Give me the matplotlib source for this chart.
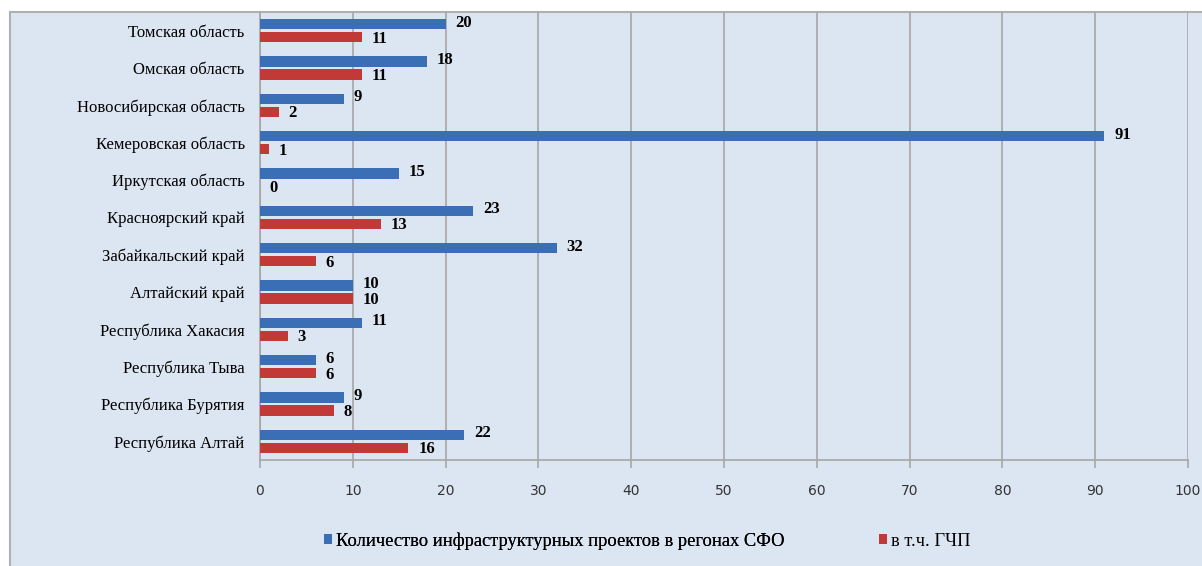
import matplotlib.pyplot as plt
from matplotlib.patches import Rectangle, Patch
import numpy as np

regions = [
    "Томская область",
    "Омская область",
    "Новосибирская область",
    "Кемеровская область",
    "Иркутская область",
    "Красноярский край",
    "Забайкальский край",
    "Алтайский край",
    "Республика Хакасия",
    "Республика Тыва",
    "Республика Бурятия",
    "Республика Алтай",
]
projects_total = [20, 18, 9, 91, 15, 23, 32, 10, 11, 6, 9, 22]
projects_ppp = [11, 11, 2, 1, 0, 13, 6, 10, 3, 6, 8, 16]

label_total = "Количество инфраструктурных проектов в регонах СФО"
label_ppp = "в т.ч. ГЧП"

BLUE = "#3a6fb6"
RED = "#c23a37"
BG = "#dce6f2"
GRID = "#a6a6a6"

W, H = 1202, 566
fig = plt.figure(figsize=(W / 100, H / 100), dpi=100)
fig.patch.set_facecolor("white")

# outer chart frame (extends past right/bottom edge)
frame = Rectangle((10 / W, -0.05), 1.1, 1 - 12 / H + 0.05,
                  transform=fig.transFigure, facecolor=BG,
                  edgecolor="#b0b0b0", linewidth=1.5, zorder=-5)
fig.patches.append(frame)

ax = fig.add_axes([260 / W, 1 - 460 / H, (1188 - 260) / W, (460 - 12) / H])
ax.set_facecolor("none")
ax.set_zorder(2)

n = len(regions)
y = np.arange(n)[::-1].astype(float)
h = 0.27
off = 0.175

ax.barh(y + off, projects_total, height=h, color=BLUE, zorder=3)
ax.barh(y - off, projects_ppp, height=h, color=RED, zorder=3)

for yi, v in zip(y, projects_total):
    ax.annotate(str(v), (v, yi + off), xytext=(7, 1), textcoords="offset points",
                ha="left", va="center", fontsize=12, fontweight="bold",
                family="Liberation Serif", color="black")
for yi, v in zip(y, projects_ppp):
    ax.annotate(str(v), (v, yi - off), xytext=(7, -1), textcoords="offset points",
                ha="left", va="center", fontsize=12, fontweight="bold",
                family="Liberation Serif", color="black")

ax.set_xlim(0, 100)
ax.set_ylim(-0.5, n - 0.5)
ax.set_xticks(np.arange(0, 101, 10))
ax.set_yticks(y)
ax.set_yticklabels(regions, family="Liberation Serif", fontsize=12)
ax.tick_params(axis="y", length=0, pad=11)
ax.tick_params(axis="x", length=6, width=1.2, color=GRID, pad=11,
               labelsize=10, labelcolor="#333333")
ax.xaxis.grid(True, color=GRID, linewidth=1.2, zorder=0)
for s in ["top", "right"]:
    ax.spines[s].set_visible(False)
for s in ["left", "bottom"]:
    ax.spines[s].set_color(GRID)
    ax.spines[s].set_linewidth(1.2)

legend_font = {"family": "Liberation Serif", "size": 13.3}
leg1 = fig.legend([Patch(facecolor=BLUE)], [label_total], loc="center left",
                  bbox_to_anchor=(307 / W, 1 - 541 / H), frameon=False,
                  prop=legend_font, handlelength=0.45, handleheight=0.45,
                  handletextpad=0.2)
leg2 = fig.legend([Patch(facecolor=RED)], [label_ppp], loc="center left",
                  bbox_to_anchor=(862 / W, 1 - 541 / H), frameon=False,
                  prop=legend_font, handlelength=0.45, handleheight=0.45,
                  handletextpad=0.2)
fig.add_artist(leg1)

fig.savefig("out.png", dpi=100)
